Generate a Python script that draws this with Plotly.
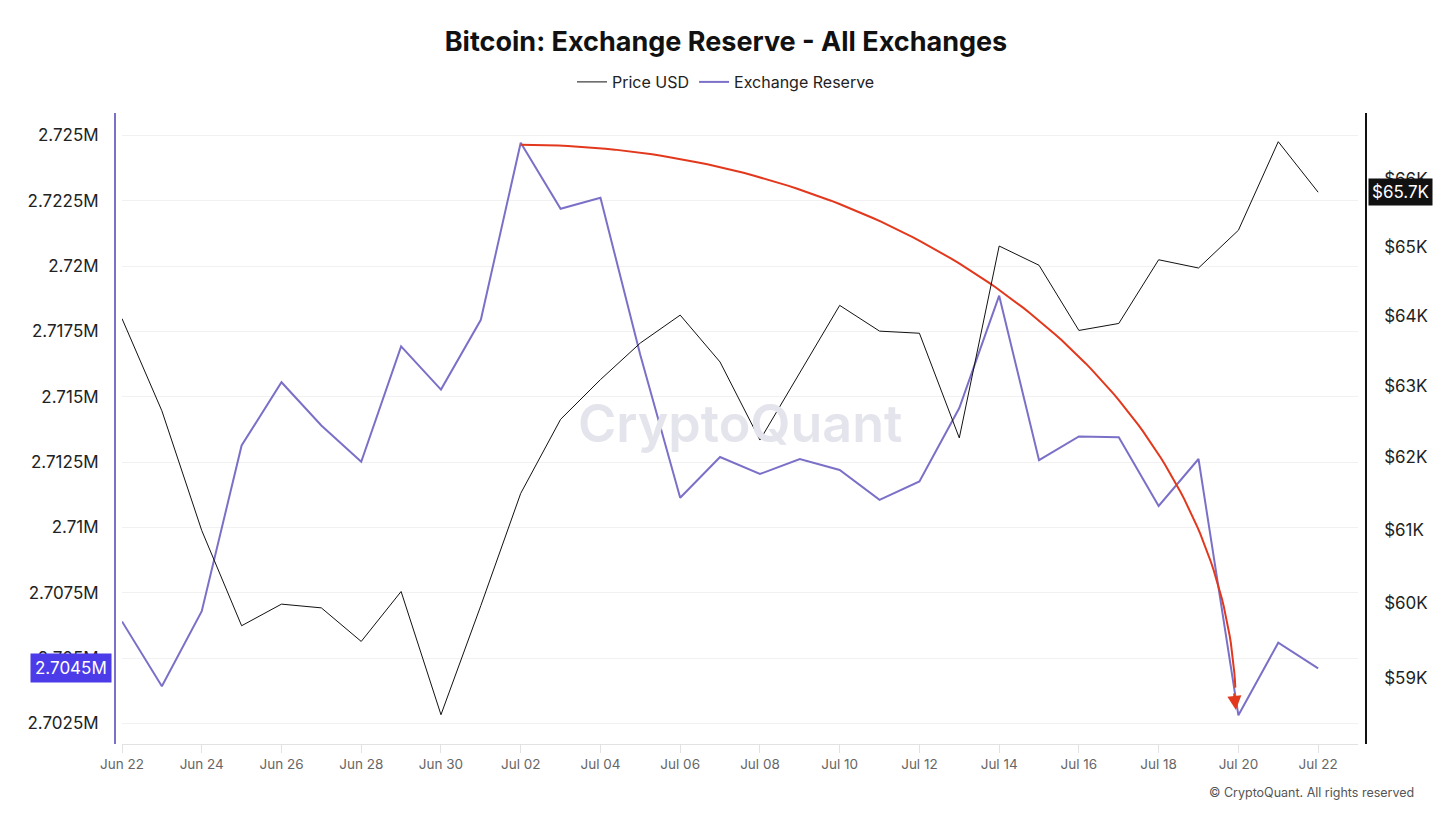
import numpy as np
import pandas as pd
import plotly.graph_objects as go

# ---------------- data ----------------
dates = pd.date_range("2024-06-22", "2024-07-22", freq="D")

price_usd = [63960, 62650, 60990, 59700, 59990, 59940, 59490, 60160, 58520, 59970,
             61500, 62530, 63090, 63610, 64010, 63340, 62240, 63180, 64150, 63780,
             63750, 62270, 65010, 64730, 63790, 63890, 64810, 64690, 65240, 66550,
             65800]

exchange_reserve = [2706406, 2703924, 2706797, 2713135, 2715556, 2713900, 2712511,
                    2716929, 2715273, 2717943, 2724717, 2722189, 2722609, 2716596,
                    2711134, 2712695, 2712045, 2712618, 2712198, 2711058, 2711762,
                    2714569, 2718865, 2712573, 2713479, 2713448, 2710821, 2712618,
                    2702815, 2705592, 2704609]

reserve_ticks = [2702500, 2705000, 2707500, 2710000, 2712500, 2715000, 2717500,
                 2720000, 2722500, 2725000]
reserve_tick_text = ["2.7025M", "2.705M", "2.7075M", "2.71M", "2.7125M", "2.715M",
                     "2.7175M", "2.72M", "2.7225M", "2.725M"]

price_ticks = [59000, 60000, 61000, 62000, 63000, 64000, 65000, 66000]
price_tick_text = ["$59K", "$60K", "$61K", "$62K", "$63K", "$64K", "$65K", "$66K"]

reserve_badge = "2.7045M"
price_badge = "$65.7K"

# arrow annotation endpoints (start: Jul 02 peak, end: Jul 20 low)
arrow_start = (pd.Timestamp("2024-07-02"), 2724640)
arrow_end = (pd.Timestamp("2024-07-19 22:30"), 2703017)

# ---------------- layout constants ----------------
W, H = 1452, 817
FONT = "Inter"
PURPLE = "#7b70c8"
RED = "#e2381d"

plot_left, plot_right = 122, 1358
plot_top, plot_bottom = 113, 744

fig = go.Figure()

fig.add_trace(go.Scatter(
    x=dates, y=price_usd, name="Price USD", mode="lines",
    line=dict(color="#111111", width=1), yaxis="y2"))

fig.add_trace(go.Scatter(
    x=dates, y=exchange_reserve, name="Exchange Reserve", mode="lines",
    line=dict(color=PURPLE, width=2), yaxis="y"))

# curved red arrow (quarter ellipse between start & end points)
t = np.linspace(0, np.pi / 2, 120)
span_days = (arrow_end[0] - arrow_start[0]) / pd.Timedelta(days=1)
curve_x = [arrow_start[0] + pd.Timedelta(days=float(span_days * np.sin(v))) for v in t]
curve_y = arrow_end[1] + (arrow_start[1] - arrow_end[1]) * np.cos(t)
fig.add_trace(go.Scatter(
    x=curve_x[:-3], y=curve_y[:-3], mode="lines", line=dict(color=RED, width=2),
    showlegend=False, hoverinfo="skip", yaxis="y"))

fig.add_annotation(
    x=arrow_end[0], y=arrow_end[1], xref="x", yref="y", ax=-2, ay=-18,
    showarrow=True, arrowhead=2, arrowsize=1.4, arrowwidth=2, arrowcolor=RED,
    standoff=0, text="")

# watermark
fig.add_annotation(
    x=740 / W, y=1 - 423 / H, xref="paper", yref="paper", showarrow=False,
    text="CryptoQuant", font=dict(family=FONT, size=52, color="#e4e4ec", weight=600))

# copyright
fig.add_annotation(
    x=1416 / W, y=1 - 792 / H, xref="paper", yref="paper", xanchor="right",
    yanchor="middle", showarrow=False, text="© CryptoQuant. All rights reserved",
    font=dict(family=FONT, size=12.5, color="#555555"))

# last-value badges
fig.add_annotation(
    x=112 / W, y=exchange_reserve[-1], xref="paper", yref="y", xanchor="right",
    yanchor="middle", showarrow=False, text=reserve_badge,
    font=dict(family=FONT, size=17, color="white"), bgcolor="#4b3be8",
    borderpad=4)
fig.add_annotation(
    x=1368 / W, y=np.log10(price_usd[-1]), xref="paper", yref="y2", xanchor="left",
    yanchor="middle", showarrow=False, text=price_badge,
    font=dict(family=FONT, size=17, color="white"), bgcolor="#111111",
    borderpad=3)

fig.update_layout(
    width=W, height=H, autosize=False,
    margin=dict(l=0, r=0, t=0, b=0, pad=0),
    paper_bgcolor="white", plot_bgcolor="white",
    font=dict(family=FONT, color="#222222"),
    title=dict(text="Bitcoin: Exchange Reserve - All Exchanges", x=0.5, xanchor="center",
               y=1 - 42 / H, yanchor="middle", yref="container",
               font=dict(family=FONT, size=27, color="#111111", weight=700)),
    legend=dict(orientation="h", x=0.5, xanchor="center", y=1 - 82 / H,
                yanchor="middle", font=dict(family=FONT, size=16, color="#222222"),
                itemwidth=30, bgcolor="rgba(0,0,0,0)", traceorder="normal"),
    showlegend=True,
    xaxis=dict(
        domain=[plot_left / W, plot_right / W],
        range=["2024-06-22", "2024-07-23"],
        type="date", tick0="2024-06-22", dtick=2 * 86400000, tickformat="%b %d",
        showgrid=False, zeroline=False,
        showline=True, linecolor="#e2e2e2", linewidth=1,
        ticks="outside", ticklen=8, tickcolor="#e2e2e2",
        tickfont=dict(family=FONT, size=13.5, color="#666666"),
        automargin=False, anchor="y"),
    yaxis=dict(
        domain=[1 - plot_bottom / H, 1 - plot_top / H],
        range=[2701717, 2725853],
        tickvals=reserve_ticks, ticktext=reserve_tick_text,
        showgrid=True, gridcolor="#f1f1f1", gridwidth=1, zeroline=False,
        showline=True, linecolor=PURPLE, linewidth=2,
        ticks="", ticklabelstandoff=12,
        tickfont=dict(family=FONT, size=17, color="#222222"),
        anchor="free", position=115 / W, automargin=False),
    yaxis2=dict(
        domain=[1 - plot_bottom / H, 1 - plot_top / H],
        type="log", range=[4.764449, 4.825944],
        tickvals=price_ticks, ticktext=price_tick_text,
        showgrid=False, zeroline=False,
        showline=True, linecolor="#111111", linewidth=1.5,
        ticks="", ticklabelstandoff=14,
        tickfont=dict(family=FONT, size=17, color="#222222"),
        overlaying="y", side="right", anchor="free", position=1366 / W,
        automargin=False),
)

fig.write_html("out.html")
